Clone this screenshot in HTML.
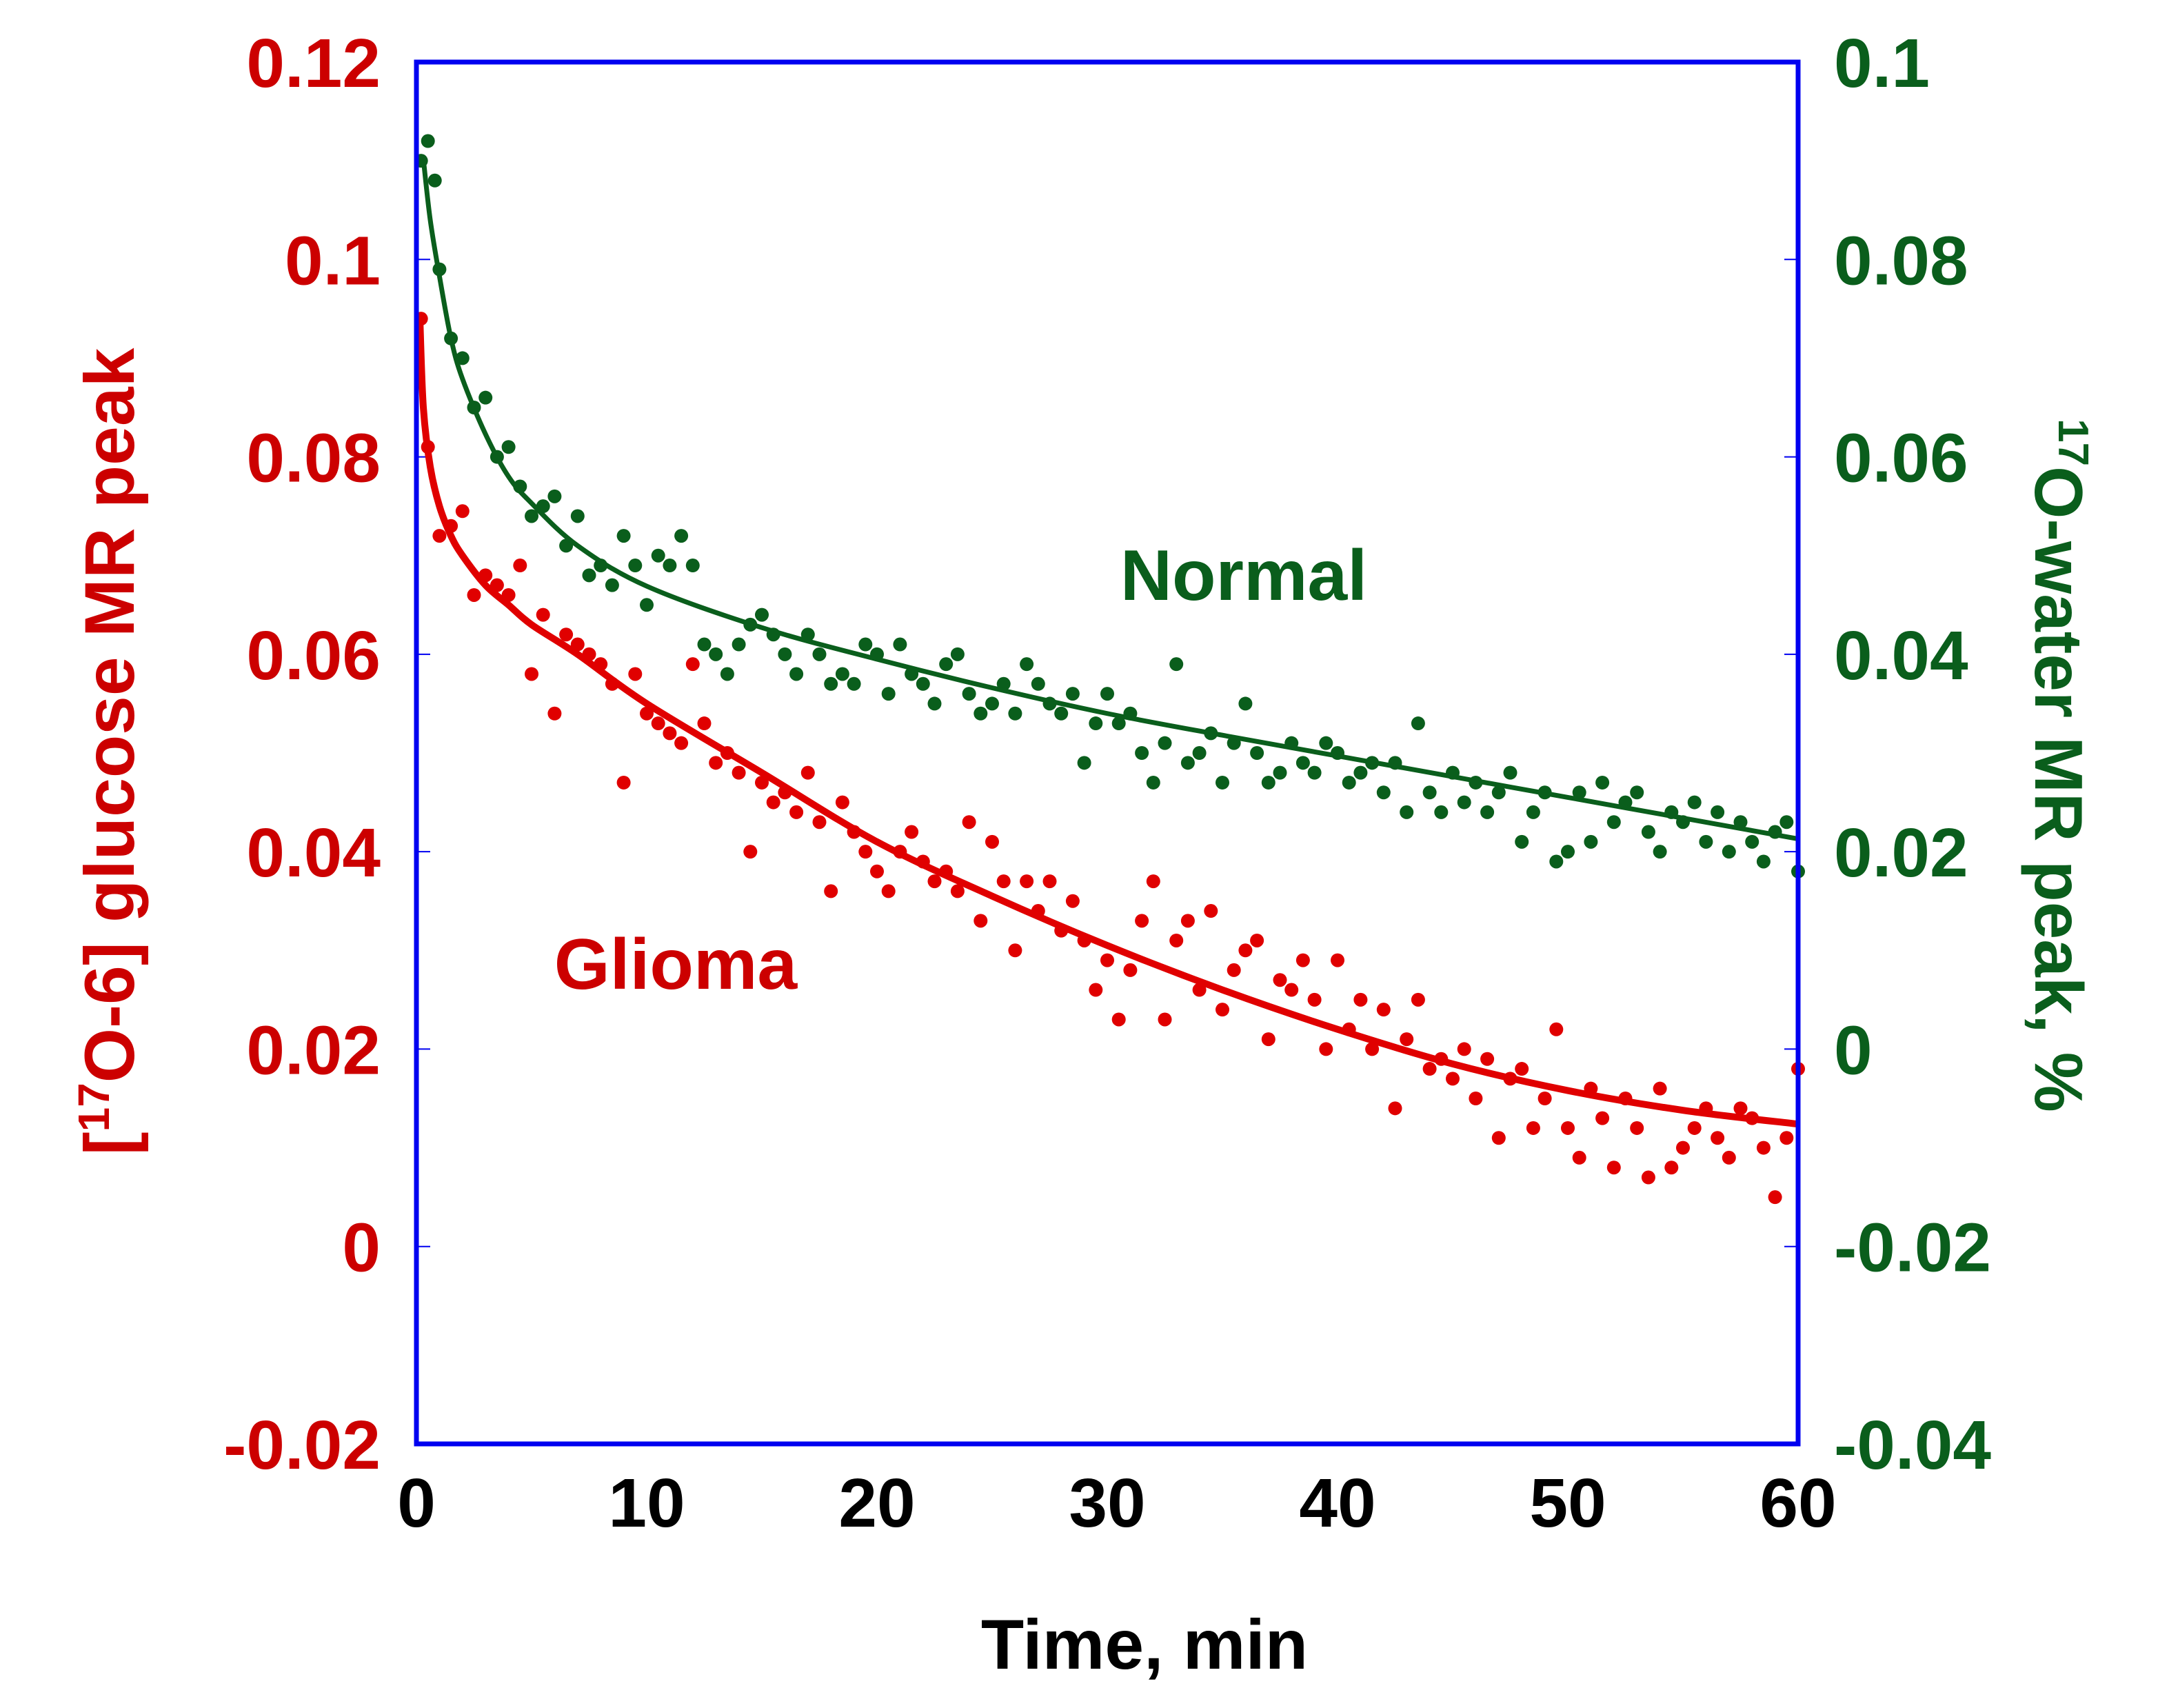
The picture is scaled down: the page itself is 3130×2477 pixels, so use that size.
<!DOCTYPE html>
<html><head><meta charset="utf-8"><style>
html,body{margin:0;padding:0;background:#fff;}
svg{display:block;font-family:"Liberation Sans",Arial,sans-serif;font-weight:bold;}
</style></head><body>
<svg id="chart" width="3130" height="2477" viewBox="0 0 3130 2477" xmlns="http://www.w3.org/2000/svg">
<g id="ticks"></g>
<g id="marks"></g>
<rect x="604" y="90" width="2004" height="2004" fill="none" stroke="#0000f0" stroke-width="7"/>
<g id="labels"></g>
<text x="1660" y="2420" font-size="102" text-anchor="middle" fill="#000">Time, min</text>
<text transform="translate(194,1090) rotate(-90)" font-size="102" text-anchor="middle" fill="#cc0000">[<tspan font-size="64" dy="-36">17</tspan><tspan dy="36">O-6] glucose MR peak</tspan></text>
<text transform="translate(2952,1110) rotate(90)" font-size="98" text-anchor="middle" fill="#0a5e1c"><tspan font-size="62" dy="-34">17</tspan><tspan dy="34">O-water MR peak, %</tspan></text>
<text x="1804" y="870" font-size="104" text-anchor="middle" fill="#0a5e1c">Normal</text>
<text x="980" y="1434" font-size="104" text-anchor="middle" fill="#cc0000">Glioma</text>
</svg>
<script>
const xTicks=[0,10,20,30,40,50,60];
const leftTicks=[0.12,0.1,0.08,0.06,0.04,0.02,0,-0.02];
const leftTickLabels=["0.12","0.1","0.08","0.06","0.04","0.02","0","-0.02"];
const rightTicks=[0.1,0.08,0.06,0.04,0.02,0,-0.02,-0.04];
const rightTickLabels=["0.1","0.08","0.06","0.04","0.02","0","-0.02","-0.04"];

const gliomaX=[0.2,0.5,1,1.5,2,2.5,3,3.5,4,4.5,5,5.5,6,6.5,7,7.5,8,8.5,9,9.5,10,10.5,11,11.5,12,12.5,13,13.5,14,14.5,15,15.5,16,16.5,17,17.5,18,18.5,19,19.5,20,20.5,21,21.5,22,22.5,23,23.5,24,24.5,25,25.5,26,26.5,27,27.5,28,28.5,29,29.5,30,30.5,31,31.5,32,32.5,33,33.5,34,34.5,35,35.5,36,36.5,37,37.5,38,38.5,39,39.5,40,40.5,41,41.5,42,42.5,43,43.5,44,44.5,45,45.5,46,46.5,47,47.5,48,48.5,49,49.5,50,50.5,51,51.5,52,52.5,53,53.5,54,54.5,55,55.5,56,56.5,57,57.5,58,58.5,59,59.5,60];
const gliomaY=[0.094,0.081,0.072,0.073,0.0745,0.066,0.068,0.067,0.066,0.069,0.058,0.064,0.054,0.062,0.061,0.060,0.059,0.057,0.047,0.058,0.054,0.053,0.052,0.051,0.059,0.053,0.049,0.050,0.048,0.040,0.047,0.045,0.046,0.044,0.048,0.043,0.036,0.045,0.042,0.040,0.038,0.036,0.040,0.042,0.039,0.037,0.038,0.036,0.043,0.033,0.041,0.037,0.030,0.037,0.034,0.037,0.032,0.035,0.031,0.026,0.029,0.023,0.028,0.033,0.037,0.023,0.031,0.033,0.026,0.034,0.024,0.028,0.030,0.031,0.021,0.027,0.026,0.029,0.025,0.020,0.029,0.022,0.025,0.020,0.024,0.014,0.021,0.025,0.018,0.019,0.017,0.020,0.015,0.019,0.011,0.017,0.018,0.012,0.015,0.022,0.012,0.009,0.016,0.013,0.008,0.015,0.012,0.007,0.016,0.008,0.010,0.012,0.014,0.011,0.009,0.014,0.013,0.010,0.005,0.011,0.018];
const normalX=[0.2,0.5,0.8,1,1.5,2,2.5,3,3.5,4,4.5,5,5.5,6,6.5,7,7.5,8,8.5,9,9.5,10,10.5,11,11.5,12,12.5,13,13.5,14,14.5,15,15.5,16,16.5,17,17.5,18,18.5,19,19.5,20,20.5,21,21.5,22,22.5,23,23.5,24,24.5,25,25.5,26,26.5,27,27.5,28,28.5,29,29.5,30,30.5,31,31.5,32,32.5,33,33.5,34,34.5,35,35.5,36,36.5,37,37.5,38,38.5,39,39.5,40,40.5,41,41.5,42,42.5,43,43.5,44,44.5,45,45.5,46,46.5,47,47.5,48,48.5,49,49.5,50,50.5,51,51.5,52,52.5,53,53.5,54,54.5,55,55.5,56,56.5,57,57.5,58,58.5,59,59.5,60];
const normalY=[0.090,0.092,0.088,0.079,0.072,0.070,0.065,0.066,0.060,0.061,0.057,0.054,0.055,0.056,0.051,0.054,0.048,0.049,0.047,0.052,0.049,0.045,0.050,0.049,0.052,0.049,0.041,0.040,0.038,0.041,0.043,0.044,0.042,0.040,0.038,0.042,0.040,0.037,0.038,0.037,0.041,0.040,0.036,0.041,0.038,0.037,0.035,0.039,0.040,0.036,0.034,0.035,0.037,0.034,0.039,0.037,0.035,0.034,0.036,0.029,0.033,0.036,0.033,0.034,0.030,0.027,0.031,0.039,0.029,0.030,0.032,0.027,0.031,0.035,0.030,0.027,0.028,0.031,0.029,0.028,0.031,0.030,0.027,0.028,0.029,0.026,0.029,0.024,0.033,0.026,0.024,0.028,0.025,0.027,0.024,0.026,0.028,0.021,0.024,0.026,0.019,0.020,0.026,0.021,0.027,0.023,0.025,0.026,0.022,0.020,0.024,0.023,0.025,0.021,0.024,0.020,0.023,0.021,0.019,0.022,0.023,0.018];

const gliomaFitX=[0.15,0.3,0.6,1,1.5,2,3,4,5,7,10,15,20,25,30,35,40,45,50,55,60];
const gliomaFitY=[0.094,0.085,0.079,0.075,0.072,0.070,0.067,0.065,0.063,0.060,0.055,0.048,0.041,0.0355,0.0305,0.026,0.022,0.0185,0.0158,0.0138,0.0124];
const normalFitX=[0.3,0.6,1,1.5,2,3,4,5,7,10,15,20,25,30,35,40,45,50,55,60];
const normalFitY=[0.0902,0.084,0.0783,0.072,0.0679,0.0623,0.058,0.0553,0.051,0.0469,0.0427,0.0395,0.0366,0.034,0.0318,0.0297,0.0276,0.0255,0.0234,0.0213];

const L=604,R=2608,T=90,B=2094;
const xS=v=>L+(v-0)/60*(R-L);
const yL=v=>B-(v+0.02)/0.14*(B-T);
const yR=v=>B-(v+0.04)/0.14*(B-T);
const NS="http://www.w3.org/2000/svg";
function mk(tag,attrs,parent){const e=document.createElementNS(NS,tag);for(const k in attrs)e.setAttribute(k,attrs[k]);parent.appendChild(e);return e;}
const ticks=document.getElementById('ticks'),marks=document.getElementById('marks'),labels=document.getElementById('labels');

leftTicks.forEach((v,i)=>{
  const y=yL(v);
  const t=mk('line',{x1:L,x2:L+20,y1:y,y2:y,stroke:'#0000f0','stroke-width':2},ticks);
  
  
  const tx=mk('text',{x:552,y:y+36,'font-size':100,'text-anchor':'end',fill:'#cc0000'},labels);
  tx.textContent=leftTickLabels[i];
  
  
});
rightTicks.forEach((v,i)=>{
  const y=yR(v);
  const t=mk('line',{x1:R-20,x2:R,y1:y,y2:y,stroke:'#0000f0','stroke-width':2},ticks);
  
  
  const tx=mk('text',{x:2660,y:y+36,'font-size':100,'text-anchor':'start',fill:'#0a5e1c'},labels);
  tx.textContent=rightTickLabels[i];
  
  
});
xTicks.forEach(v=>{
  const tx=mk('text',{x:xS(v),y:2214,'font-size':100,'text-anchor':'middle',fill:'#000'},labels);
  tx.textContent=String(v);
  
  
});

function smoothPath(px,py){
  const p=px.map((x,i)=>[x,py[i]]);
  let d='M'+p[0][0]+','+p[0][1];
  for(let i=0;i<p.length-1;i++){
    const p0=p[Math.max(0,i-1)],p1=p[i],p2=p[i+1],p3=p[Math.min(p.length-1,i+2)];
    const c1=[p1[0]+(p2[0]-p0[0])/6,p1[1]+(p2[1]-p0[1])/6];
    const c2=[p2[0]-(p3[0]-p1[0])/6,p2[1]-(p3[1]-p1[1])/6];
    d+=' C'+c1+' '+c2+' '+p2;
  }
  return d;
}

normalX.forEach((x,i)=>{
  const c=mk('circle',{cx:xS(x),cy:yR(normalY[i]),r:10,fill:'#0a5e1c'},marks);
  
  
});
gliomaX.forEach((x,i)=>{
  const c=mk('circle',{cx:xS(x),cy:yL(gliomaY[i]),r:10,fill:'#e00000'},marks);
  
  
});
const nf=mk('path',{d:smoothPath(normalFitX.map(xS),normalFitY.map(yR)),fill:'none',stroke:'#0a5e1c','stroke-width':7},marks);


const gf=mk('path',{d:smoothPath(gliomaFitX.map(xS),gliomaFitY.map(yL)),fill:'none',stroke:'#e00000','stroke-width':10},marks);


</script>
</body></html>
